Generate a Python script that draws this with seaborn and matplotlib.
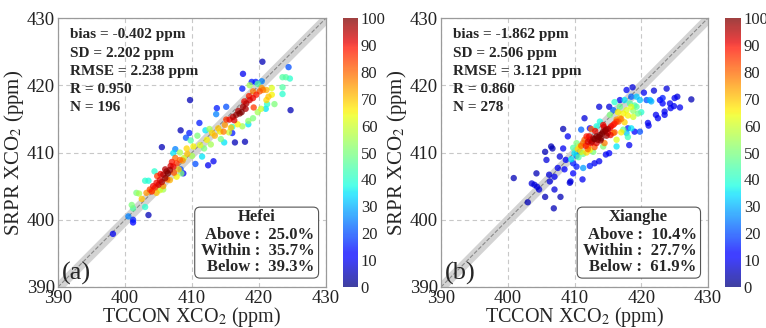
import numpy as np
import pandas as pd
import matplotlib
matplotlib.use("Agg")
import matplotlib.pyplot as plt
import seaborn as sns
from matplotlib.patches import FancyBboxPatch
from matplotlib.cm import ScalarMappable
from matplotlib.colors import Normalize

# ---------------- data ----------------
hefei_tccon = [398.2, 400.5, 401.2, 401.2, 403.5, 405.5, 408.3, 408.7, 408.3, 409.7, 409.6, 409.1, 407.5, 407.2,
               410.5, 411.5, 411.1, 412.4, 413.2, 412.0, 413.7, 413.6, 415.1, 414.8, 416.0, 416.0, 416.4, 417.6,
               417.5, 417.9, 418.9, 419.5, 420.5, 420.4, 421.0, 421.2, 418.4, 422.3, 423.5, 424.0, 424.6, 424.4,
               423.5, 423.5, 424.7,
               401.0, 401.2, 401.7, 402.1, 403.0, 403.5, 404.4, 402.5, 403.2, 403.0, 403.7, 404.2, 404.7, 405.2,
               405.7, 406.2, 406.4, 406.7, 407.2, 407.7, 408.2, 408.6, 404.0, 404.5, 405.0, 405.5, 406.0, 406.0,
               406.8, 405.3, 404.8, 407.5, 407.0, 404.7, 405.7, 406.7, 407.7, 405.7, 408.4, 403.9, 405.2, 406.3,
               407.3, 408.0, 408.2, 408.8, 409.3,
               409.2, 410.2, 411.2, 412.2, 413.0, 413.4, 413.9, 414.2, 414.9, 414.7, 415.1, 410.0, 411.8, 412.8,
               414.3, 415.5, 409.8, 410.8, 412.6,
               415.6, 416.1, 416.6, 417.1, 417.6, 418.1, 418.6, 419.1, 419.6, 420.1, 420.6, 416.3, 416.9, 417.4,
               418.0, 418.5, 417.8, 419.1, 420.4, 421.1, 421.1, 419.2, 421.9, 421.9, 421.4, 417.5, 418.4, 419.1,
               419.8, 420.3, 416.8, 415.8, 418.6, 419.8]
hefei_srpr = [397.9, 400.5, 400.0, 399.6, 400.7, 410.8, 413.3, 406.9, 407.5, 417.8, 412.9, 412.2, 410.5, 409.9,
              408.3, 409.4, 414.4, 408.1, 408.7, 413.3, 416.6, 415.7, 416.8, 411.5, 413.8, 412.9, 411.5, 421.7,
              419.5, 411.6, 420.5, 420.5, 423.5, 420.6, 416.5, 417.2, 414.2, 417.2, 421.2, 421.2, 421.0, 422.7,
              418.7, 419.7, 416.3,
              402.2, 401.7, 404.0, 403.9, 405.8, 405.8, 407.2, 403.1, 404.0, 401.9, 404.5, 405.0, 405.5, 405.9,
              406.7, 407.2, 406.9, 407.4, 407.9, 408.4, 408.9, 408.8, 404.2, 404.8, 405.2, 405.6, 406.2, 407.5,
              408.0, 406.8, 406.5, 409.2, 408.6, 404.0, 405.0, 405.9, 406.4, 404.5, 406.9, 404.3, 404.4, 406.0,
              407.0, 407.5, 410.0, 409.2, 409.8,
              410.6, 410.9, 411.1, 411.9, 412.9, 412.5, 413.6, 413.1, 414.1, 413.1, 414.9, 409.5, 410.6, 411.2,
              412.0, 413.0, 411.8, 412.5, 413.5,
              414.9, 415.3, 415.6, 415.8, 416.8, 417.3, 417.8, 418.1, 418.6, 419.1, 419.3, 414.8, 416.2, 416.0,
              416.5, 418.4, 417.6, 419.1, 419.6, 419.3, 417.8, 416.7, 419.6, 418.6, 418.3, 413.9, 414.7, 415.1,
              416.0, 416.5, 414.2, 413.7, 420.0, 420.2]
hefei_density = [10, 25, 15, 12, 5, 5, 5, 10, 20, 5, 15, 20, 25, 35,
                 20, 35, 15, 10, 10, 35, 15, 25, 20, 35, 40, 15, 5, 10,
                 15, 5, 15, 15, 5, 25, 35, 40, 35, 50, 45, 45, 40, 20,
                 40, 45, 5,
                 50, 45, 50, 55, 40, 38, 40, 70, 75, 40, 85, 90, 90, 92,
                 95, 98, 100, 97, 90, 85, 80, 75, 88, 85, 92, 95, 98, 95,
                 92, 90, 85, 80, 88, 70, 75, 72, 65, 55, 50, 65, 60, 80,
                 82, 70, 55, 60, 70,
                 68, 65, 62, 65, 68, 72, 70, 65, 75, 78, 85, 55, 50, 55,
                 50, 60, 45, 50, 55,
                 90, 95, 98, 100, 97, 95, 92, 90, 88, 82, 78, 92, 96, 100,
                 96, 88, 90, 78, 75, 72, 68, 85, 62, 65, 70, 55, 52, 50,
                 55, 60, 65, 70, 55, 45]

xianghe_tccon = [400.9, 403.0, 403.6, 404.0, 404.4, 404.3, 404.7, 405.6, 405.6, 405.8, 406.2, 406.3, 406.5, 406.7,
                 406.9, 407.0, 407.0, 407.5, 407.8, 407.9, 408.3, 408.3, 408.5, 408.7, 409.3, 409.4, 409.0, 409.8,
                 409.8, 410.3, 410.8, 411.2, 411.3, 411.5, 412.3, 412.3, 413.0, 413.7, 413.7, 414.7, 415.2, 415.2,
                 416.8, 417.8, 418.2, 418.7, 419.0, 418.0, 420.4, 421.0, 421.1, 421.9, 422.2, 422.5, 422.8, 423.2,
                 423.5, 423.8, 423.5, 424.3, 424.4, 424.9, 425.0, 425.4, 425.8, 427.5, 423.2, 421.5, 421.3, 419.8,
                 413.3, 413.8, 414.3, 414.0, 414.7, 413.5, 412.8,
                 413.0, 413.6, 414.1, 414.6, 415.0, 412.6, 413.9, 414.8,
                 412.3, 412.5, 413.3, 415.3, 415.8, 415.0, 411.8, 416.3, 414.3,
                 412.0, 412.2, 415.5, 416.0, 414.4, 413.1, 415.4, 411.7,
                 411.3, 411.5, 412.0, 416.3, 416.8, 414.5, 415.8,
                 411.0, 412.0, 413.0, 416.6, 417.0, 416.0, 412.5,
                 410.8, 411.0, 412.3, 416.3, 417.3, 417.8, 418.8, 418.5,
                 410.5, 411.8, 417.5, 418.0, 417.0, 416.5,
                 410.3, 411.3, 412.8, 414.3, 415.3, 416.8, 418.3, 419.3, 419.5, 417.3,
                 409.8, 410.6, 418.8, 419.0, 418.0, 416.0, 420.0,
                 410.0, 409.5, 413.3, 413.8, 417.5, 419.3, 419.8, 418.5, 416.3, 417.8,
                 411.0, 410.3, 415.8, 418.5, 420.8]
xianghe_srpr = [406.2, 402.6, 405.4, 405.2, 404.9, 406.9, 404.5, 403.4, 410.1, 408.9, 406.7, 405.7, 410.9, 410.6,
                401.7, 404.5, 406.4, 407.7, 409.4, 403.4, 413.5, 410.6, 407.5, 408.9, 405.5, 405.7, 412.4, 406.9,
                408.4, 407.9, 410.1, 406.0, 407.7, 415.1, 413.6, 408.0, 408.4, 408.7, 416.8, 409.7, 416.8, 409.9,
                417.8, 419.3, 411.1, 419.7, 413.1, 413.6, 418.9, 414.4, 414.0, 419.2, 415.6, 415.1, 417.8, 417.3,
                416.1, 419.5, 415.6, 417.3, 416.6, 416.9, 418.1, 418.3, 416.7, 417.9, 418.1, 417.6, 417.8, 413.1,
                412.4, 412.6, 413.1, 412.1, 413.4, 411.9, 412.1,
                412.0, 412.3, 412.8, 413.2, 413.5, 411.6, 411.8, 412.5,
                411.9, 411.4, 411.4, 413.6, 414.1, 412.9, 412.4, 414.6, 414.1,
                411.6, 412.4, 413.9, 414.3, 413.8, 413.2, 412.6, 411.0,
                411.4, 411.9, 410.9, 414.9, 415.1, 411.4, 412.9,
                411.0, 410.5, 410.8, 414.6, 415.0, 413.0, 413.5,
                410.9, 410.1, 410.4, 411.9, 415.8, 416.3, 415.3, 416.8,
                410.5, 410.0, 414.5, 415.5, 413.0, 416.0,
                411.4, 409.8, 410.1, 410.9, 415.6, 416.8, 417.3, 416.8, 415.8, 413.4,
                410.7, 409.3, 416.2, 417.0, 412.3, 417.5, 416.0,
                409.9, 409.0, 413.9, 414.6, 417.8, 418.3, 417.8, 413.6, 410.9, 412.9,
                413.4, 409.5, 416.3, 418.3, 417.8]
xianghe_density = [5, 5, 8, 8, 8, 5, 8, 5, 5, 8, 8, 8, 5, 5,
                   5, 8, 10, 10, 8, 5, 5, 10, 12, 12, 8, 8, 10, 12,
                   15, 15, 20, 10, 28, 8, 12, 15, 10, 10, 8, 10, 8, 12,
                   10, 10, 10, 8, 12, 15, 10, 10, 10, 8, 10, 10, 12, 12,
                   10, 8, 10, 10, 10, 10, 10, 8, 10, 5, 15, 30, 30, 20,
                   100, 100, 98, 100, 97, 98, 96,
                   100, 100, 100, 98, 96, 96, 98, 97,
                   90, 90, 92, 90, 88, 92, 88, 85, 90,
                   92, 90, 90, 88, 92, 90, 90, 88,
                   78, 80, 78, 75, 72, 78, 75,
                   80, 80, 82, 80, 78, 82, 80,
                   65, 62, 65, 62, 65, 62, 60, 62,
                   68, 68, 68, 65, 66, 65,
                   50, 48, 50, 50, 50, 48, 45, 45, 48, 48,
                   45, 45, 52, 45, 42, 40, 40,
                   35, 35, 38, 38, 35, 32, 32, 35, 35, 32,
                   22, 22, 22, 22, 20]

site_names = ["Hefei", "Xianghe"]
panel_tags = ["(a)", "(b)"]
stats_lines = [
    ["bias = -0.402 ppm", "SD = 2.202 ppm", "RMSE = 2.238 ppm", "R = 0.950", "N = 196"],
    ["bias = -1.862 ppm", "SD = 2.506 ppm", "RMSE = 3.121 ppm", "R = 0.860", "N = 278"],
]
frac_lines = [
    ["Above :  25.0%", "Within :  35.7%", "Below :  39.3%"],
    ["Above :  10.4%", "Within :  27.7%", "Below :  61.9%"],
]
axis_ticks = [390, 400, 410, 420, 430]
cbar_ticks = list(range(0, 101, 10))

# ---------------- style ----------------
sns.set_theme(style="white")
plt.rcParams["font.family"] = ["Liberation Serif", "DejaVu Serif"]
plt.rcParams["mathtext.fontset"] = "stix"

fig = plt.figure(figsize=(7.66, 3.28), dpi=100)
ax_pos = [[0.0757, 0.125, 0.35, 0.82], [0.5757, 0.125, 0.3486, 0.82]]
cb_pos = [[0.4478, 0.125, 0.0196, 0.82], [0.9465, 0.125, 0.0209, 0.82]]

datasets = [
    pd.DataFrame({"x": hefei_tccon, "y": hefei_srpr, "d": hefei_density}),
    pd.DataFrame({"x": xianghe_tccon, "y": xianghe_srpr, "d": xianghe_density}),
]
norm = Normalize(0, 100)
cmap = plt.get_cmap("jet")

stats_y = [0.937, 0.869, 0.802, 0.735, 0.668]
frac_y = [0.193, 0.134, 0.074]

for i, df in enumerate(datasets):
    ax = fig.add_axes(ax_pos[i])
    line = np.array([390, 430])
    ax.fill_between(line, line - 1, line + 1, color="#cfcfcf", alpha=0.9, lw=0, zorder=1)
    ax.plot(line, line, ls="--", color="#8a8a8a", lw=0.8, zorder=2)
    df = df.sort_values("d")
    sns.scatterplot(data=df, x="x", y="y", hue="d", palette=cmap, hue_norm=norm,
                    s=21, alpha=0.75, linewidth=0, legend=False, ax=ax, zorder=3)
    ax.set_xlim(390, 430)
    ax.set_ylim(390, 430)
    ax.set_xticks(axis_ticks)
    ax.set_yticks(axis_ticks)
    ax.tick_params(labelsize=13.5, length=0, pad=2, colors="#222222")
    ax.grid(True, ls=(0, (4, 3)), color="#c8c8c8", lw=0.8)
    ax.set_axisbelow(True)
    for sp in ax.spines.values():
        sp.set_color("#9a9a9a")
        sp.set_linewidth(0.9)
    ax.set_xlabel(r"TCCON XCO$_2$ (ppm)", fontsize=14.5, labelpad=-1)
    ax.set_ylabel(r"SRPR XCO$_2$ (ppm)", fontsize=15, labelpad=1)

    for t, yy in zip(stats_lines[i], stats_y):
        ax.text(0.045, yy, t, transform=ax.transAxes, ha="left", va="center",
                fontsize=11, fontweight="bold")
    ax.text(0.015, 0.05, panel_tags[i], transform=ax.transAxes, ha="left", va="center",
            fontsize=19)
    box = FancyBboxPatch((0.51, 0.033), 0.462, 0.264, transform=ax.transAxes,
                         boxstyle="round,pad=0,rounding_size=0.02", fc="white",
                         ec="#555555", lw=0.8, zorder=5)
    ax.add_patch(box)
    ax.text(0.74, 0.26, site_names[i], transform=ax.transAxes, ha="center", va="center",
            fontsize=12, fontweight="bold", zorder=6)
    for t, yy in zip(frac_lines[i], frac_y):
        ax.text(0.957, yy, t, transform=ax.transAxes, ha="right", va="center",
                fontsize=12, fontweight="bold", zorder=6)

    cax = fig.add_axes(cb_pos[i])
    sm = ScalarMappable(norm=norm, cmap=cmap)
    sm.set_array([])
    cb = fig.colorbar(sm, cax=cax, ticks=cbar_ticks, alpha=0.75)
    cb.outline.set_visible(False)
    cax.tick_params(labelsize=12, length=0, pad=2)

fig.savefig("out.png", dpi=100)
